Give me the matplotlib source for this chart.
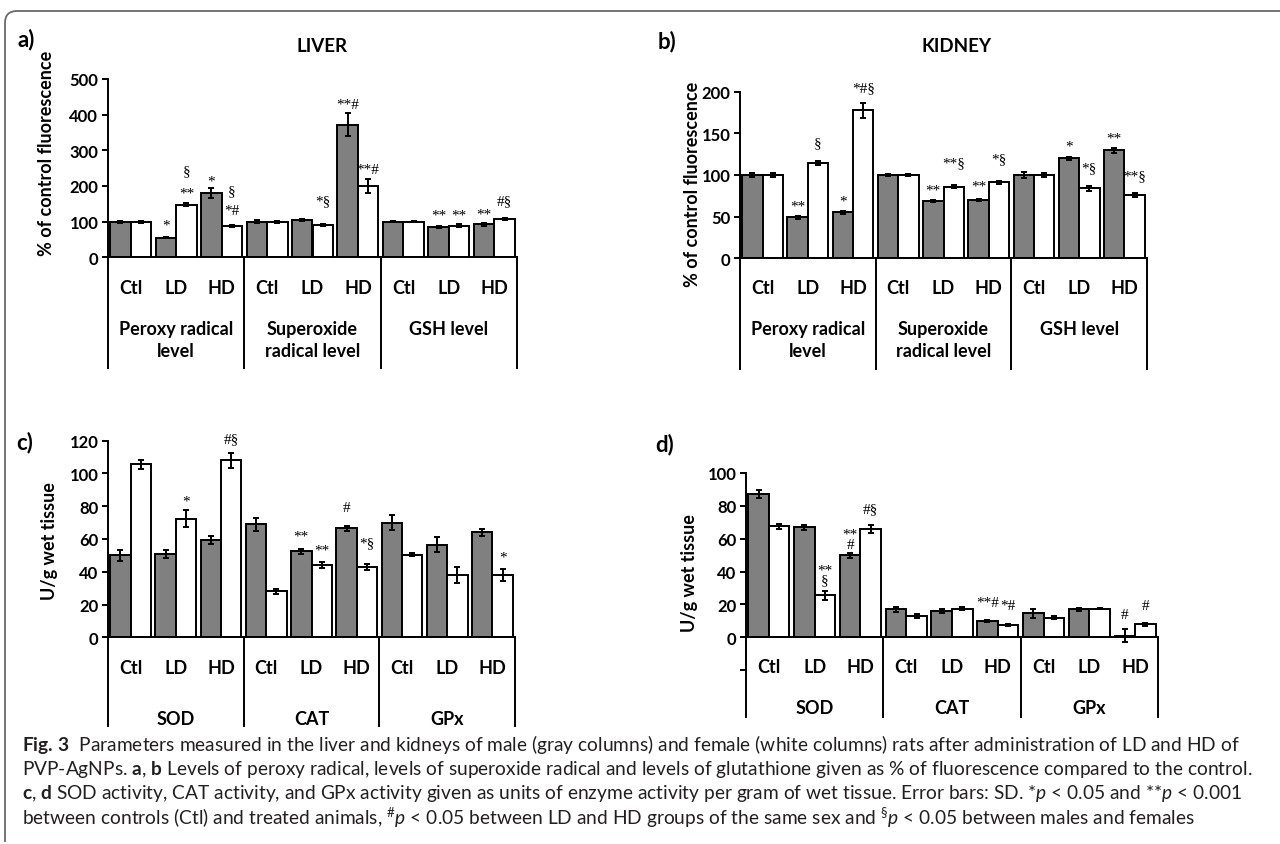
import numpy as np
import matplotlib.pyplot as plt
from matplotlib import transforms
from matplotlib.path import Path
from matplotlib.patches import PathPatch

W, H = 1280, 845

doses = ["Ctl", "LD", "HD"]
groups_ros = ["Peroxy radical\nlevel", "Superoxide\nradical level", "GSH level"]
groups_enz = ["SOD", "CAT", "GPx"]

# a) liver, % of control fluorescence (order: group x dose)
liver_ros_m = [100, 55, 180, 100, 105, 372, 100, 85, 92]
liver_ros_m_sd = [3, 2, 13, 4, 2, 32, 2, 2, 3]
liver_ros_f = [100, 147, 88, 100, 91, 199, 100, 89, 107]
liver_ros_f_sd = [3, 4, 3, 3, 2, 20, 2, 3, 3]

# b) kidney, % of control fluorescence
kidney_ros_m = [100, 49, 55, 100, 69, 70, 100, 120, 130]
kidney_ros_m_sd = [2, 1.5, 1.5, 1.5, 1.5, 1.5, 4, 2, 3]
kidney_ros_f = [100, 114, 178, 100, 86, 91, 100, 84, 76]
kidney_ros_f_sd = [3, 2.5, 9, 1.5, 1.5, 1.5, 2, 3, 2]

# c) liver, U/g wet tissue
liver_enz_m = [50, 51, 59.5, 69, 52.5, 66.5, 70, 56.5, 64]
liver_enz_m_sd = [3.5, 2.5, 2.5, 4, 1.5, 1.5, 4.5, 4.5, 2]
liver_enz_f = [105.5, 72.5, 108, 28, 44, 43, 50.5, 38, 38]
liver_enz_f_sd = [3, 5, 4.5, 1.5, 2, 2, 1, 5, 3.5]

# d) kidney, U/g wet tissue
kidney_enz_m = [87, 67, 50, 17, 16, 10, 14.5, 17, 1]
kidney_enz_m_sd = [2.5, 1.5, 1.5, 1.5, 1, 0.5, 3, 1, 4]
kidney_enz_f = [67.5, 25.5, 66, 13, 17.5, 7.5, 12, 17.5, 8]
kidney_enz_f_sd = [1.5, 2.5, 2.5, 1, 1, 0.5, 1, 0.5, 1]

# significance marks: (bar index, 0=male/1=female, text)
liver_ros_marks = [(1, 0, "*"), (1, 1, "**"), (1, 1, "§"), (2, 0, "*"), (2, 1, "§"),
                   (2, 1, "*#"), (4, 1, "*§"), (5, 0, "**#"), (5, 1, "**#"),
                   (7, 0, "**"), (7, 1, "**"), (8, 0, "**"), (8, 1, "#§")]
kidney_ros_marks = [(1, 0, "**"), (1, 1, "§"), (2, 0, "*"), (2, 1, "*#§"), (4, 0, "**"),
                    (4, 1, "**§"), (5, 0, "**"), (5, 1, "*§"), (7, 0, "*"), (7, 1, "*§"),
                    (8, 0, "**"), (8, 1, "**§")]
liver_enz_marks = [(1, 1, "*"), (2, 1, "#§"), (4, 0, "**"), (4, 1, "**"), (5, 0, "#"),
                   (5, 1, "*§"), (8, 1, "*")]
kidney_enz_marks = [(1, 1, "**\n§"), (2, 0, "**\n#"), (2, 1, "#§"),
                    (5, 0, "**#"), (5, 1, "*#"), (8, 0, "#"), (8, 1, "#")]

# baseline heights of the marks (layout, in data units)
liver_ros_mark_y = [82, 171, 234, 204, 178, 121, 150, 418, 237, 109, 109, 112, 149]
kidney_ros_mark_y = [58, 135, 64, 200, 78, 110, 83, 115, 131, 105, 140, 95]
liver_enz_mark_y = [81, 119, 59.6, 51, 77, 55.6, 46.8]
kidney_enz_mark_y = [33, 54.4, 76.3, 18.9, 17.5, 11.8, 17.5]

plt.rcParams['font.family'] = ['Lato', 'DejaVu Sans']
plt.rcParams['mathtext.fontset'] = 'custom'
plt.rcParams['mathtext.rm'] = 'Lato'
plt.rcParams['mathtext.it'] = 'Lato:italic'
plt.rcParams['mathtext.bf'] = 'Lato:bold'

GRAY = '#808080'
LW = 1.4

fig = plt.figure(figsize=(W / 100, H / 100), dpi=100)


def fy(y):
    return 1 - y / H


def draw_panel(box, ylim, ystep, male, male_sd, female, female_sd, marks, mark_y,
               groups, dose_y, group_y, group_va, line_end):
    left, right, top, zero = box
    ymin, ymax = ylim
    scale = (zero - top) / ymax
    bottom = zero - ymin * scale
    ax = fig.add_axes([left / W, fy(bottom), (right - left) / W, (bottom - top) / H])
    x = np.arange(9)
    ekw = dict(ecolor='black', elinewidth=LW, capsize=2, capthick=LW)
    ax.bar(x - 0.225, male, 0.45, color=GRAY, edgecolor='black', linewidth=LW,
           yerr=male_sd, error_kw=ekw, zorder=2)
    ax.bar(x + 0.225, female, 0.45, color='white', edgecolor='black', linewidth=LW,
           yerr=female_sd, error_kw=ekw, zorder=2)
    ax.set_xlim(-0.5, 8.5)
    ax.set_ylim(ymin, ymax)
    ticks = np.arange(ymin, ymax + 1, ystep)
    ax.set_yticks(ticks)
    ax.set_yticklabels(['' if t < 0 else '%d' % t for t in ticks])
    ax.set_xticks([])
    for s in ['top', 'right']:
        ax.spines[s].set_visible(False)
    ax.spines['bottom'].set_position(('data', 0))
    ax.spines['bottom'].set_linewidth(LW)
    ax.spines['left'].set_linewidth(LW)
    ax.tick_params(axis='y', direction='out', length=4, width=LW, labelsize=12, pad=3)
    for lab in ax.get_yticklabels():
        lab.set_fontweight('bold')
    ax.patch.set_alpha(0)

    blend = transforms.blended_transform_factory(ax.transData, fig.transFigure)
    for xd in [-0.5, 2.5, 5.5, 8.5]:
        ax.plot([xd, xd], [fy(zero), fy(line_end)], color='black', lw=LW,
                transform=blend, clip_on=False)
    for i in range(9):
        ax.text(i, fy(dose_y), doses[i % 3], transform=blend, ha='center', va='center',
                fontsize=13, fontweight='bold')
    for g, name in enumerate(groups):
        ax.text(3 * g + 1, fy(group_y), name, transform=blend, ha='center', va=group_va,
                fontsize=13, fontweight='bold', linespacing=1.35)
    for (i, sex, txt), yv in zip(marks, mark_y):
        ax.text(i - 0.225 + 0.45 * sex, yv, txt, ha='center', va='baseline',
                fontsize=11, family='Liberation Serif', linespacing=0.7)
    return ax


draw_panel((108, 517, 80, 258.3), (0, 500), 100, liver_ros_m, liver_ros_m_sd,
           liver_ros_f, liver_ros_f_sd, liver_ros_marks, liver_ros_mark_y,
           groups_ros, 288, 321, 'top', 369)
draw_panel((740, 1147, 92.7, 259.3), (0, 200), 50, kidney_ros_m, kidney_ros_m_sd,
           kidney_ros_f, kidney_ros_f_sd, kidney_ros_marks, kidney_ros_mark_y,
           groups_ros, 289, 321, 'top', 370)
draw_panel((108, 515, 441.7, 638.3), (0, 120), 20, liver_enz_m, liver_enz_m_sd,
           liver_enz_f, liver_enz_f_sd, liver_enz_marks, liver_enz_mark_y,
           groups_enz, 669, 720, 'center', 727)
draw_panel((746, 1158, 474, 638.3), (-20, 100), 20, kidney_enz_m, kidney_enz_m_sd,
           kidney_enz_f, kidney_enz_f_sd, kidney_enz_marks, kidney_enz_mark_y,
           groups_enz, 668, 708, 'center', 718)

# titles, panel letters, axis labels
fig.text(322 / W, fy(47), "LIVER", ha='center', va='center', fontsize=13.5, fontweight='bold')
fig.text(957 / W, fy(47), "KIDNEY", ha='center', va='center', fontsize=13.5, fontweight='bold')
for lab, xp, yp in [("a)", 26, 40), ("b)", 667, 42), ("c)", 25, 443), ("d)", 665, 445)]:
    fig.text(xp / W, fy(yp), lab, ha='center', va='center', fontsize=16, fontweight='bold')
for lab, xp, yp in [("% of control fluorescence", 47, 153), ("% of control fluorescence", 692, 184),
                    ("U/g wet tissue", 50, 541), ("U/g wet tissue", 690, 573)]:
    fig.text(xp / W, fy(yp), lab, ha='center', va='center', rotation=90,
             fontsize=13, fontweight='bold')

# frame
frame = Path([(5 / W, fy(843)), (5 / W, fy(24)), (5 / W, fy(12)), (17 / W, fy(12)), (1.0, fy(12))],
             [Path.MOVETO, Path.LINETO, Path.CURVE3, Path.CURVE3, Path.LINETO])
fig.add_artist(PathPatch(frame, fill=False, edgecolor='#6a6a6a', lw=1.3,
                         transform=fig.transFigure))

# caption
caption = [
    r"$\mathbf{Fig.\,3}$  Parameters measured in the liver and kidneys of male (gray columns) and female (white columns) rats after administration of LD and HD of",
    r"PVP-AgNPs. $\mathbf{a}$, $\mathbf{b}$ Levels of peroxy radical, levels of superoxide radical and levels of glutathione given as % of fluorescence compared to the control.",
    r"$\mathbf{c}$, $\mathbf{d}$ SOD activity, CAT activity, and GPx activity given as units of enzyme activity per gram of wet tissue. Error bars: SD. *$\mathit{p}$ < 0.05 and **$\mathit{p}$ < 0.001",
    r"between controls (Ctl) and treated animals, $^{\#}\mathit{p}$ < 0.05 between LD and HD groups of the same sex and $^{§}\mathit{p}$ < 0.05 between males and females",
]
cap_texts = []
for k, line in enumerate(caption):
    cap_texts.append(fig.text(22 / W, fy(745 + 24.4 * k), line, ha='left', va='center',
                              fontsize=12, color='#231f20'))
renderer = fig.canvas.get_renderer()
width = cap_texts[0].get_window_extent(renderer).width
size = 12 * (1235 - 22) / width
for t in cap_texts:
    t.set_fontsize(size)

fig.savefig('out.png', dpi=100)
